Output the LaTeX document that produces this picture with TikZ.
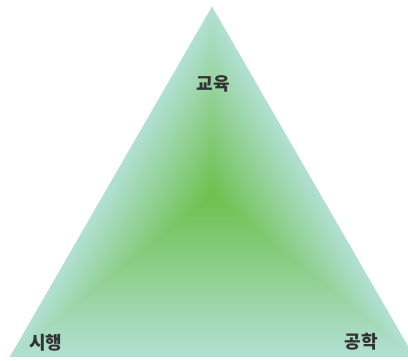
\documentclass[tikz,border=0pt]{standalone}
\usepackage{fontspec}
\newfontfamily\krfont{Noto Sans CJK KR}
\definecolor{paleteal}{RGB}{178,224,212}
\definecolor{leafgreen}{RGB}{108,192,76}
\tikzset{corner label/.style={font=\krfont\bfseries\fontsize{18}{18}\selectfont, text=black!80, inner sep=0pt},
  side fade/.style={bottom color=paleteal, top color=leafgreen}}

\begin{document}
\begin{tikzpicture}[x=1pt,y=1pt]
\useasboundingbox (0,0) rectangle (408,361);
\coordinate (top) at (212,354);
\coordinate (left) at (10,4);
\coordinate (right) at (414,4);
\coordinate (mid) at (212,166);

% underlay, hides the seams
\fill[paleteal!50!leafgreen] (left) -- (right) -- (mid) -- cycle;
\fill[paleteal!50!leafgreen] (left) -- (top) -- (mid) -- cycle;
\fill[paleteal!50!leafgreen] (right) -- (top) -- (mid) -- cycle;

% bottom part
\begin{scope}
\clip (left) -- (right) -- (mid) -- cycle;
\shade[side fade] (0,4) rectangle (420,166);
\end{scope}
% left part
\begin{scope}
\clip (left) -- (top) -- (mid) -- cycle;
\begin{scope}[transform canvas={rotate around={60.01:(left)}}]
\shade[top color=paleteal, bottom color=leafgreen] (-100,-90) rectangle (500,4);
\end{scope}
\end{scope}
% right part
\begin{scope}
\clip (right) -- (top) -- (mid) -- cycle;
\begin{scope}[transform canvas={rotate around={119.99:(right)}}]
\shade[side fade] (314,4) rectangle (914,98);
\end{scope}
\end{scope}

\node[corner label] (edu) at (213,277) {교육};
\node[corner label] (exec) at (46,18) {시행};
\node[corner label] (eng) at (361,19) {공학};
\end{tikzpicture}
\end{document}
